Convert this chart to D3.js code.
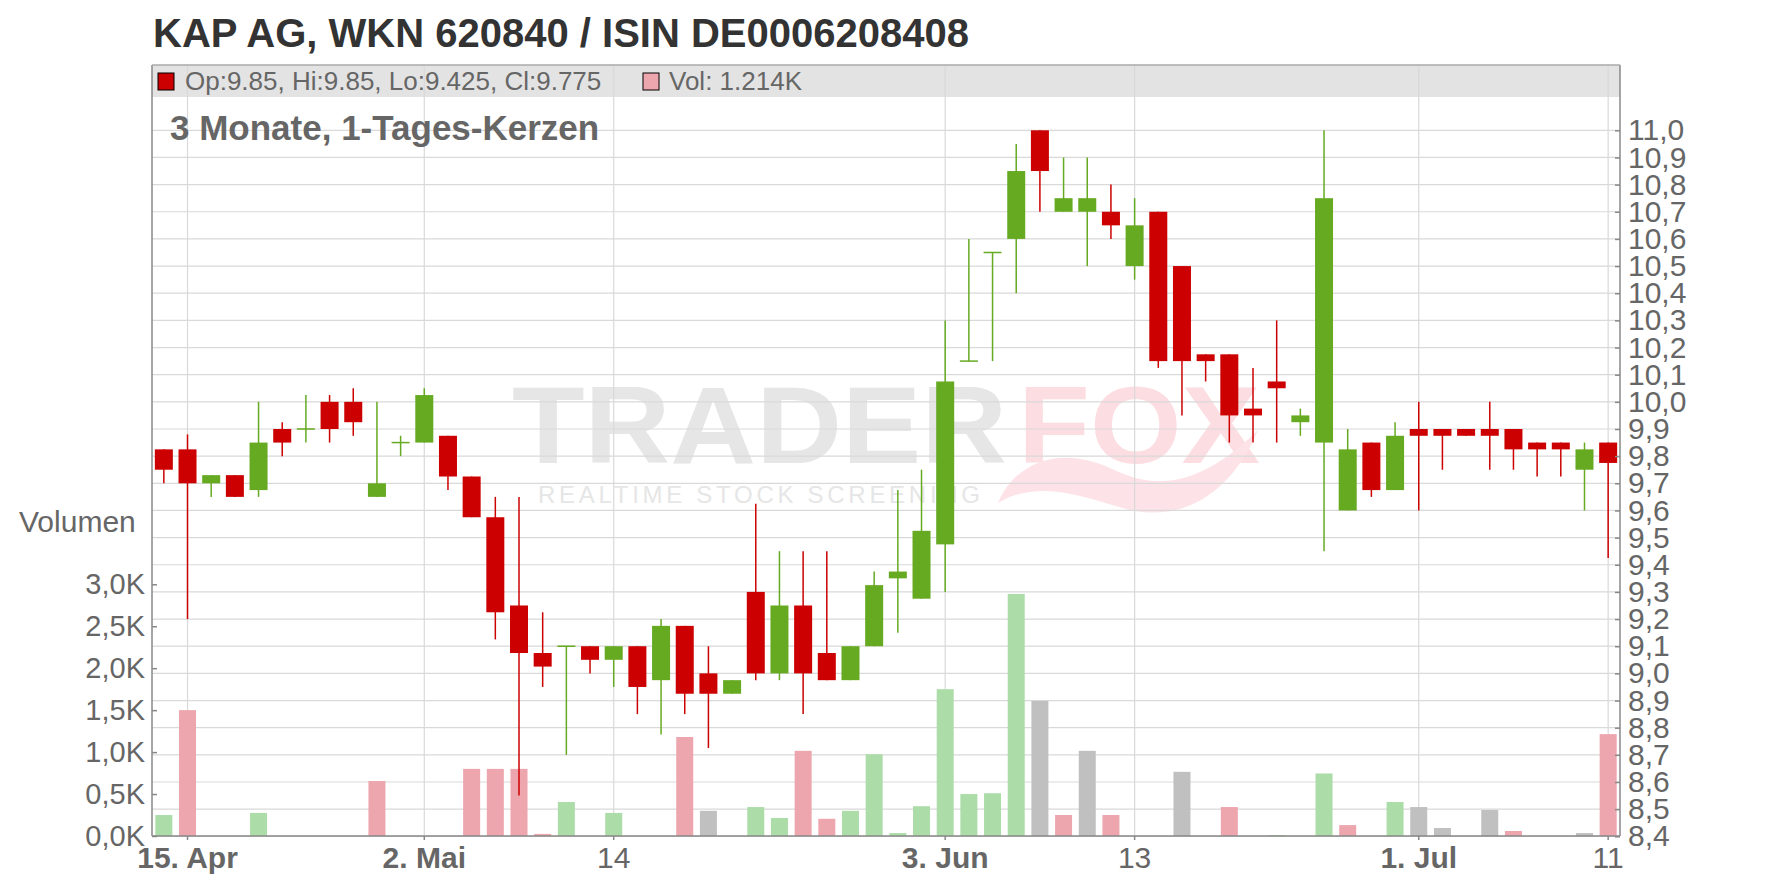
<!DOCTYPE html>
<html><head><meta charset="utf-8">
<script src="https://cdn.jsdelivr.net/npm/d3@7"></script>
<style>html,body{margin:0;padding:0;background:#fff;} svg{display:block;}</style>
</head><body>
<svg id="chart" width="1776" height="888"></svg>
<script>
// ---------- DATA ----------
const dates = [
 "2024-04-12","2024-04-15","2024-04-16","2024-04-17","2024-04-18","2024-04-19","2024-04-22","2024-04-23","2024-04-24","2024-04-25",
 "2024-04-29","2024-05-02","2024-05-03","2024-05-06","2024-05-07","2024-05-08","2024-05-09","2024-05-10","2024-05-13","2024-05-14",
 "2024-05-15","2024-05-16","2024-05-17","2024-05-20","2024-05-21","2024-05-22","2024-05-23","2024-05-24","2024-05-27","2024-05-28",
 "2024-05-29","2024-05-30","2024-05-31","2024-06-03","2024-06-04","2024-06-05","2024-06-06","2024-06-07","2024-06-10","2024-06-11",
 "2024-06-12","2024-06-13","2024-06-14","2024-06-17","2024-06-18","2024-06-19","2024-06-20","2024-06-21","2024-06-24","2024-06-25",
 "2024-06-26","2024-06-27","2024-06-28","2024-07-01","2024-07-02","2024-07-03","2024-07-04","2024-07-05","2024-07-08","2024-07-09",
 "2024-07-10","2024-07-11"];
const openP = [9.825,9.825,9.70,9.73,9.675,9.90,9.90,10.0,10.0,9.65, 9.85,9.85,9.875,9.725,9.575,9.25,9.075,9.10,9.10,9.05,
 9.10,8.975,9.175,9.00,8.925,9.30,9.00,9.25,9.075,8.975, 9.10,9.35,9.275,9.475,10.15,10.55,10.60,11.00,10.70,10.70,
 10.70,10.50,10.70,10.50,10.175,10.175,9.975,10.075,9.925,9.85, 9.60,9.85,9.675,9.90,9.90,9.90,9.90,9.90,9.85,9.85, 9.75,9.85];
const highP = [9.825,9.88,9.73,9.73,10.0,9.925,10.025,10.025,10.05,10.0, 9.875,10.05,9.875,9.725,9.65,9.65,9.225,9.10,9.10,9.10,
 9.10,9.20,9.175,9.10,8.975,9.625,9.45,9.45,9.45,9.10, 9.375,9.675,9.75,10.30,10.60,10.55,10.95,11.00,10.90,10.90,
 10.80,10.75,10.70,10.50,10.175,10.175,10.125,10.30,9.975,11.00, 9.90,9.85,9.925,10.0,9.90,9.90,10.0,9.90,9.85,9.85, 9.85,9.85];
const lowP = [9.70,9.20,9.65,9.65,9.65,9.80,9.85,9.85,9.875,9.65, 9.80,9.85,9.675,9.575,9.125,8.55,8.95,8.70,9.00,8.95,
 8.85,8.775,8.85,8.725,8.925,8.975,8.975,8.85,8.975,8.975, 9.10,9.15,9.275,9.30,10.15,10.15,10.40,10.70,10.70,10.50,
 10.60,10.45,10.125,9.95,10.075,9.85,9.85,9.85,9.875,9.45, 9.60,9.65,9.675,9.60,9.75,9.875,9.75,9.75,9.725,9.725, 9.60,9.425];
const closeP = [9.75,9.70,9.73,9.65,9.85,9.85,9.90,9.90,9.925,9.70, 9.85,10.025,9.725,9.575,9.225,9.075,9.025,9.10,9.05,9.10,
 8.95,9.175,8.925,8.925,8.975,9.00,9.25,9.00,8.975,9.10, 9.325,9.375,9.525,10.075,10.15,10.55,10.85,10.85,10.75,10.75,
 10.65,10.65,10.15,10.15,10.15,9.95,9.95,10.05,9.95,10.75, 9.825,9.675,9.875,9.875,9.875,9.875,9.875,9.825,9.825,9.825, 9.825,9.775];
const volume = [250,1500,0,0,275,0,0,0,0,655, 0,0,0,800,800,800,25,405,0,275,
 0,0,1180,300,0,345,215,1015,205,300, 975,35,355,1750,500,510,2885,1610,250,1015,
 250,0,0,765,0,345,0,12,0,745, 130,0,405,345,95,0,310,60,0,0, 35,1214];
const prevClose = 9.70; // close before first candle (estimated)
const priceTicks = [8.4,8.5,8.6,8.7,8.8,8.9,9.0,9.1,9.2,9.3,9.4,9.5,9.6,9.7,9.8,9.9,10.0,10.1,10.2,10.3,10.4,10.5,10.6,10.7,10.8,10.9,11.0];
const volumeTicks = [0,500,1000,1500,2000,2500,3000];
const xTickDates = ["2024-04-15","2024-05-02","2024-05-14","2024-06-03","2024-06-13","2024-07-01","2024-07-11"];
const xTickLabels = ["15. Apr","2. Mai","14","3. Jun","13","1. Jul","11"];
const xTickBold = [true,true,false,true,false,true,false];
const titleText = "KAP AG, WKN 620840 / ISIN DE0006208408";
const subtitleText = "3 Monate, 1-Tages-Kerzen";

// ---------- LAYOUT ----------
const FONT = "'Liberation Sans', Arial, sans-serif";
const L = 152, R = 1620, T = 65, B = 836;
const svg = d3.select("#chart");
const de = d3.formatLocale({decimal: ",", thousands: ".", grouping: [3], currency: ["", "€"]});
const f1 = de.format(".1f");

const x = d3.scaleBand().domain(dates).range([L, R]).paddingInner(0).paddingOuter(0);
const cx = d => x(d) + x.bandwidth() / 2;
const y = d3.scaleLinear().domain([8.4, 11.0]).range([836.3, 130.3]);
const yv = d3.scaleLinear().domain([0, 3000]).range([B, 584.3]);

const data = dates.map((d, i) => ({date: d, o: openP[i], h: highP[i], l: lowP[i], c: closeP[i], v: volume[i],
  pc: i === 0 ? prevClose : closeP[i - 1]}));

const RED = "#cc0000", GREEN = "#66aa22";
const VRED = "#eda5ae", VGREEN = "#acdda9", VGRAY = "#c0c0c0";

svg.append("rect").attr("width", 1776).attr("height", 888).attr("fill", "#fff");

// ---------- WATERMARK ----------
const wm = svg.append("g");
wm.append("text").attr("x", 512).attr("y", 463).attr("font-family", FONT).attr("font-weight", "bold")
  .attr("font-size", 109).attr("fill", "#e6e6e6").attr("textLength", 495).attr("lengthAdjust", "spacingAndGlyphs").text("TRADER");
wm.append("text").attr("x", 1018).attr("y", 463).attr("font-family", FONT).attr("font-weight", "bold")
  .attr("font-size", 109).attr("fill", "#fcdde2").attr("textLength", 242).attr("lengthAdjust", "spacingAndGlyphs").text("FOX");
wm.append("path").attr("d", "M998,503 C1015,462 1060,445 1110,468 C1150,488 1195,492 1258,430 C1232,492 1185,522 1130,510 C1085,498 1040,478 998,503 Z")
  .attr("fill", "#fde3e7");
wm.append("text").attr("x", 538).attr("y", 503).attr("font-family", FONT)
  .attr("font-size", 24).attr("fill", "#e6e6e6").attr("textLength", 442).attr("lengthAdjust", "spacing").text("REALTIME STOCK SCREENING");

// ---------- LEGEND BAR ----------
svg.append("rect").attr("x", L).attr("y", T).attr("width", R - L).attr("height", 32).attr("fill", "#e3e3e3");

// ---------- GRID ----------
const grid = svg.append("g").attr("stroke", "#d9d9d9").attr("stroke-width", 1.2);
grid.selectAll("line.h").data(priceTicks).join("line")
  .attr("x1", L).attr("x2", R).attr("y1", d => y(d)).attr("y2", d => y(d));
grid.selectAll("line.v").data(xTickDates).join("line")
  .attr("x1", d => cx(d)).attr("x2", d => cx(d)).attr("y1", T).attr("y2", B);

// ---------- VOLUME ----------
const vw = 17;
svg.append("g").selectAll("rect").data(data.filter(d => d.v > 0)).join("rect")
  .attr("x", d => cx(d.date) - vw / 2).attr("width", vw)
  .attr("y", d => yv(d.v)).attr("height", d => B - yv(d.v))
  .attr("fill", d => d.c > d.pc ? VGREEN : (d.c < d.pc ? VRED : VGRAY));

// ---------- CANDLES ----------
const bw = 18;
const cg = svg.append("g");
const col = d => d.c < d.o ? RED : GREEN;
cg.selectAll("line.w").data(data).join("line")
  .attr("x1", d => cx(d.date)).attr("x2", d => cx(d.date))
  .attr("y1", d => y(d.h)).attr("y2", d => y(d.l))
  .attr("stroke", col).attr("stroke-width", 1.5);
cg.selectAll("rect.b").data(data.filter(d => d.o !== d.c)).join("rect")
  .attr("x", d => cx(d.date) - bw / 2).attr("width", bw)
  .attr("y", d => y(Math.max(d.o, d.c))).attr("height", d => Math.abs(y(d.o) - y(d.c)))
  .attr("fill", col);
cg.selectAll("line.d").data(data.filter(d => d.o === d.c)).join("line")
  .attr("x1", d => cx(d.date) - bw / 2).attr("x2", d => cx(d.date) + bw / 2)
  .attr("y1", d => y(d.o)).attr("y2", d => y(d.o))
  .attr("stroke", col).attr("stroke-width", 1.5);

// ---------- AXES ----------
const AX = "#888";
const styleAxis = g => {
  g.select(".domain").remove();
  g.selectAll(".tick line").attr("stroke", AX).attr("stroke-width", 1.5);
  g.selectAll(".tick text").attr("fill", "#666").attr("font-family", FONT);
};
svg.append("g").attr("transform", `translate(${R},0)`)
  .call(d3.axisRight(y).tickValues(priceTicks).tickFormat(f1).tickSize(-5).tickPadding(8))
  .call(styleAxis).call(g => g.selectAll(".tick text").attr("font-size", 30));
svg.append("g").attr("transform", `translate(${L},0)`)
  .call(d3.axisLeft(yv).tickValues(volumeTicks).tickFormat(v => f1(v / 1000) + "K").tickSize(-5).tickPadding(7))
  .call(styleAxis).call(g => g.selectAll(".tick text").attr("font-size", 29));
const xa = svg.append("g").attr("transform", `translate(0,${B})`)
  .call(d3.axisBottom(x).tickValues(xTickDates).tickFormat((d, i) => xTickLabels[i]).tickSize(4).tickPadding(7))
  .call(styleAxis);
xa.selectAll(".tick text").attr("font-size", 30).attr("font-weight", (d, i) => xTickBold[i] ? "bold" : "normal");

// frame lines
const fr = svg.append("g").attr("stroke", AX).attr("stroke-width", 1.5);
fr.append("line").attr("x1", L).attr("x2", L).attr("y1", T).attr("y2", B);
fr.append("line").attr("x1", R).attr("x2", R).attr("y1", T).attr("y2", B);
fr.append("line").attr("x1", L).attr("x2", R).attr("y1", B).attr("y2", B);
fr.append("line").attr("x1", L).attr("x2", R).attr("y1", T).attr("y2", T).attr("stroke", "#aaa");

// ---------- TEXTS ----------
svg.append("text").attr("x", 153).attr("y", 47).attr("font-family", FONT).attr("font-weight", "bold")
  .attr("font-size", 40).attr("fill", "#333").text(titleText);
svg.append("text").attr("x", 170).attr("y", 140).attr("font-family", FONT).attr("font-weight", "bold")
  .attr("font-size", 35).attr("fill", "#666").text(subtitleText);
svg.append("text").attr("x", 19).attr("y", 532).attr("font-family", FONT)
  .attr("font-size", 30).attr("fill", "#666").text("Volumen");

const last = data[data.length - 1];
svg.append("rect").attr("x", 158).attr("y", 73).attr("width", 16).attr("height", 17)
  .attr("fill", RED).attr("stroke", "#000").attr("stroke-width", 1);
svg.append("text").attr("x", 185).attr("y", 90).attr("font-family", FONT).attr("font-size", 26).attr("fill", "#666")
  .text(`Op:${last.o}, Hi:${last.h}, Lo:${last.l}, Cl:${last.c}`);
svg.append("rect").attr("x", 643).attr("y", 73).attr("width", 16).attr("height", 17)
  .attr("fill", VRED).attr("stroke", "#000").attr("stroke-width", 1);
svg.append("text").attr("x", 669).attr("y", 90).attr("font-family", FONT).attr("font-size", 26).attr("fill", "#666")
  .text(`Vol: ${last.v / 1000}K`);
</script>
</body></html>
